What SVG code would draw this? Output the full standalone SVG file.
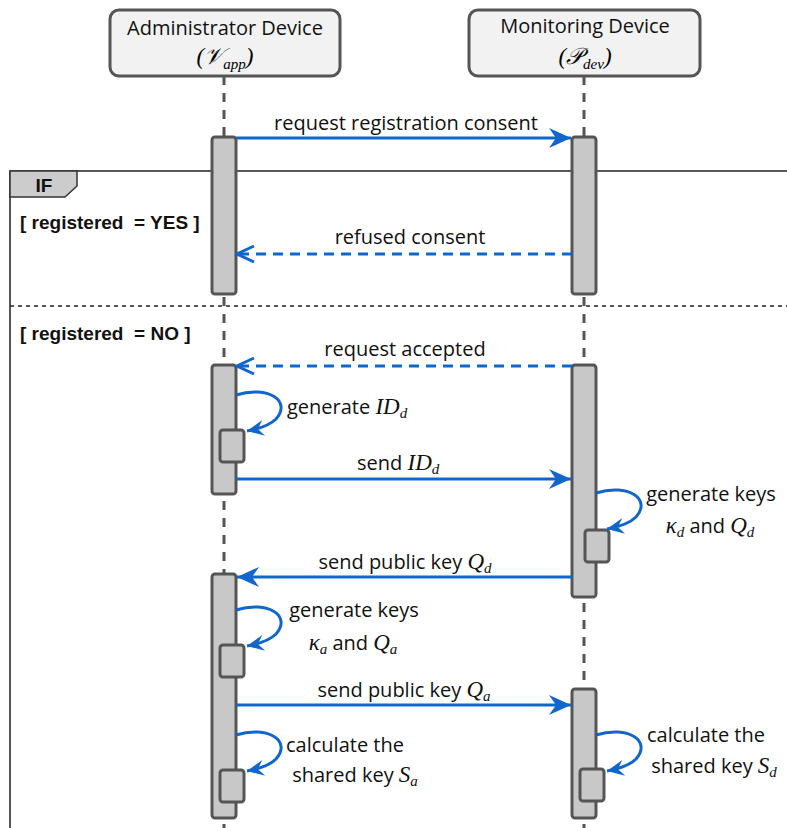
<svg xmlns="http://www.w3.org/2000/svg" width="787" height="828" viewBox="0 0 787 828">
<style>
.hd{fill:#f2f2f2;stroke:#555;stroke-width:3}
.life{stroke:#555;stroke-width:3;stroke-dasharray:9 8;fill:none}
.bar{fill:#c8c8c8;stroke:#555;stroke-width:3}
.msg{stroke:#1166cc;stroke-width:3;fill:none}
.dsh{stroke-dasharray:10 7}
.t{font-family:"Open Sans","DejaVu Sans",sans-serif;font-size:20px;fill:#111}
.m{font-family:"Liberation Serif","DejaVu Serif",serif;font-style:italic;font-size:23px}
.s{font-family:"Liberation Serif","DejaVu Serif",serif;font-style:italic;font-size:15px}
.g{font-family:"Liberation Sans",Arial,sans-serif;font-weight:bold;font-size:19px;fill:#111;white-space:pre}
</style>
<defs>
<marker id="fa" viewBox="-23 -11 25 22" markerWidth="25" markerHeight="22" refX="0" refY="0" orient="auto" markerUnits="userSpaceOnUse"><path d="M0,0 L-22,-10 L-15,0 L-22,10 z" fill="#1166cc"/></marker>
<marker id="oa" viewBox="-20 -11 22 22" markerWidth="22" markerHeight="22" refX="0" refY="0" orient="auto" markerUnits="userSpaceOnUse"><path d="M-17,-8 L0,0 L-17,8" fill="none" stroke="#1166cc" stroke-width="3"/></marker>
<marker id="sa" viewBox="-18 -10 20 20" markerWidth="20" markerHeight="20" refX="0" refY="0" orient="auto" markerUnits="userSpaceOnUse"><path d="M0,0 L-17,-8 L-11,0 L-17,8 z" fill="#1166cc"/></marker>
</defs>

<g id="frame">
<path d="M10,828 L10,171 L787,171" fill="none" stroke="#222" stroke-width="1.5"/>
<path d="M10,171 L77,171 L77,186 L65,197 L10,197 Z" fill="#cccccc" stroke="#333" stroke-width="1.5"/>
<text class="g" x="44" y="192" text-anchor="middle" font-size="16">IF</text>
<text class="g" x="20" y="229">[ registered  = YES ]</text>
<line x1="10" y1="306" x2="787" y2="306" stroke="#222" stroke-width="1.5" stroke-dasharray="4 4"/>
<text class="g" x="20" y="340">[ registered  = NO ]</text>
</g>

<g id="lifelines">
<line class="life" x1="224" y1="76" x2="224" y2="828"/>
<line class="life" x1="584" y1="76" x2="584" y2="828"/>
</g>

<g id="admin">
<rect class="hd" x="110" y="10" width="230" height="66" rx="9"/>
<text class="t" x="225" y="35" text-anchor="middle">Administrator Device</text>
<text x="225" y="64" text-anchor="middle"><tspan class="m" font-style="normal">(</tspan><tspan class="m" font-style="normal">𝒱</tspan><tspan class="s" dy="5">app</tspan><tspan class="m" font-style="normal" dy="-5">)</tspan></text>
</g>
<g id="monitor">
<rect class="hd" x="469" y="10" width="231" height="66" rx="9"/>
<text class="t" x="585" y="33" text-anchor="middle">Monitoring Device</text>
<text x="585" y="64" text-anchor="middle"><tspan class="m" font-style="normal">(</tspan><tspan class="m" font-style="normal">𝒫</tspan><tspan class="s" dy="5">dev</tspan><tspan class="m" font-style="normal" dy="-5">)</tspan></text>
</g>

<g id="bars">
<rect class="bar" x="212" y="137" width="24" height="157" rx="3"/>
<rect class="bar" x="572" y="137" width="24" height="157" rx="3"/>
<rect class="bar" x="212" y="365" width="24" height="129" rx="3"/>
<rect class="bar" x="220" y="430" width="24" height="32" rx="3"/>
<rect class="bar" x="572" y="365" width="24" height="232" rx="3"/>
<rect class="bar" x="585" y="530" width="24" height="32" rx="3"/>
<rect class="bar" x="212" y="574" width="24" height="244" rx="3"/>
<rect class="bar" x="220" y="645" width="24" height="32" rx="3"/>
<rect class="bar" x="220" y="770" width="24" height="32" rx="3"/>
<rect class="bar" x="572" y="689" width="24" height="129" rx="3"/>
<rect class="bar" x="580" y="769" width="24" height="32" rx="3"/>
</g>

<g id="connectors">
<line class="msg" x1="236" y1="138" x2="571" y2="138" marker-end="url(#fa)"/>
<line class="msg dsh" x1="572" y1="254" x2="237" y2="254" marker-end="url(#oa)"/>
<line class="msg dsh" x1="572" y1="366" x2="237" y2="366" marker-end="url(#oa)"/>
<path class="msg" d="M236,395 c32,-10 56,6 40,24 c-7,7 -18,10 -29,12" marker-end="url(#sa)"/>
<line class="msg" x1="236" y1="479" x2="571" y2="479" marker-end="url(#fa)"/>
<path class="msg" d="M596,493 c32,-10 56,6 40,24 c-7,7 -18,10 -29,12" marker-end="url(#sa)"/>
<line class="msg" x1="572" y1="577" x2="237" y2="577" marker-end="url(#fa)"/>
<path class="msg" d="M236,610 c32,-10 56,6 40,24 c-7,7 -18,10 -29,12" marker-end="url(#sa)"/>
<line class="msg" x1="236" y1="705" x2="571" y2="705" marker-end="url(#fa)"/>
<path class="msg" d="M236,735 c32,-10 56,6 40,24 c-7,7 -18,10 -29,12" marker-end="url(#sa)"/>
<path class="msg" d="M596,735 c32,-10 56,6 40,24 c-7,7 -18,10 -29,12" marker-end="url(#sa)"/>
</g>

<g id="labels">
<text class="t" x="406" y="130" text-anchor="middle">request registration consent</text>
<text class="t" x="410" y="244" text-anchor="middle">refused consent</text>
<text class="t" x="405" y="356" text-anchor="middle">request accepted</text>
<text class="t" x="287" y="414">generate <tspan class="m">ID</tspan><tspan class="s" dy="4">d</tspan></text>
<text class="t" x="357" y="470">send <tspan class="m">ID</tspan><tspan class="s" dy="4">d</tspan></text>
<text class="t" x="711" y="501" text-anchor="middle">generate keys</text>
<text class="t" x="710" y="533" text-anchor="middle"><tspan class="m">κ</tspan><tspan class="s" dy="4">d</tspan><tspan dy="-4"> and </tspan><tspan class="m">Q</tspan><tspan class="s" dy="4">d</tspan></text>
<text class="t" x="405" y="569" text-anchor="middle">send public key <tspan class="m">Q</tspan><tspan class="s" dy="4">d</tspan></text>
<text class="t" x="354" y="617" text-anchor="middle">generate keys</text>
<text class="t" x="353" y="650" text-anchor="middle"><tspan class="m">κ</tspan><tspan class="s" dy="4">a</tspan><tspan dy="-4"> and </tspan><tspan class="m">Q</tspan><tspan class="s" dy="4">a</tspan></text>
<text class="t" x="404" y="697" text-anchor="middle">send public key <tspan class="m">Q</tspan><tspan class="s" dy="4">a</tspan></text>
<text class="t" x="345" y="752" text-anchor="middle">calculate the</text>
<text class="t" x="355" y="782" text-anchor="middle">shared key <tspan class="m">S</tspan><tspan class="s" dy="4">a</tspan></text>
<text class="t" x="706" y="742" text-anchor="middle">calculate the</text>
<text class="t" x="714" y="773" text-anchor="middle">shared key <tspan class="m">S</tspan><tspan class="s" dy="4">d</tspan></text>
</g>
</svg>
